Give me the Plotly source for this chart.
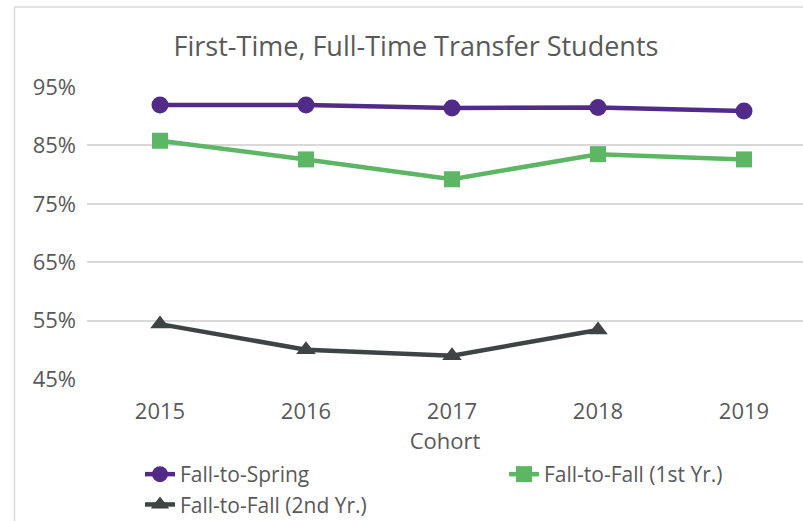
import plotly.graph_objects as go

cohorts = ["2015", "2016", "2017", "2018", "2019"]
fall_to_spring = [91.9, 91.9, 91.4, 91.5, 90.9]
fall_to_fall_1st = [85.8, 82.6, 79.2, 83.5, 82.6]
fall_to_fall_2nd = [54.4, 50.0, 49.0, 53.4, None]
y_ticks = [45, 55, 65, 75, 85, 95]
y_tick_labels = ["45%", "55%", "65%", "75%", "85%", "95%"]

FONT = "Open Sans"
TXT = "#595959"

W, H = 803, 521
ML, MR, MT, MB = 87, 0, 87, 142
PW = W - ML - MR
PH = H - MT - MB

def px_x(px):
    return (px - ML) / PW

def px_y(py):
    return (H - MB - py) / PH

fig = go.Figure()
fig.add_trace(go.Scatter(
    x=cohorts, y=fall_to_spring, name="Fall-to-Spring", mode="lines+markers",
    line=dict(color="#522A87", width=4.5),
    marker=dict(symbol="circle", size=17, color="#522A87"), legend="legend"))
fig.add_trace(go.Scatter(
    x=cohorts, y=fall_to_fall_1st, name="Fall-to-Fall (1st Yr.)", mode="lines+markers",
    line=dict(color="#5CB664", width=4.5),
    marker=dict(symbol="square", size=16, color="#5CB664"), legend="legend2"))
fig.add_trace(go.Scatter(
    x=cohorts, y=fall_to_fall_2nd, name="Fall-to-Fall (2nd Yr.)", mode="lines+markers",
    line=dict(color="#3E4444", width=4.5),
    marker=dict(symbol="triangle-up", size=17, color="#3E4444"), legend="legend"))

legend_common = dict(orientation="v", xref="container", xanchor="left",
                     yref="container", yanchor="top",
                     font=dict(size=21, color=TXT, family=FONT),
                     tracegroupgap=0, bgcolor="rgba(0,0,0,0)")

fig.update_layout(
    width=W, height=H,
    margin=dict(l=ML, r=MR, t=MT, b=MB, pad=0, autoexpand=False),
    paper_bgcolor="white", plot_bgcolor="white",
    font=dict(family=FONT, color=TXT),
    title=dict(text="First-Time, Full-Time Transfer Students",
               x=416 / W, xref="container", xanchor="center",
               y=1 - 47 / H, yref="container", yanchor="middle",
               font=dict(size=27, color=TXT, family=FONT)),
    xaxis=dict(type="category", range=[-0.5, -0.5 + PW / 146.0],
               showgrid=False, zeroline=False, showline=False,
               tickfont=dict(size=22, color=TXT), ticks="", ticklabelstandoff=17,
               title=dict(text="Cohort", font=dict(size=22, color=TXT), standoff=0)),
    yaxis=dict(range=[45, 95], tickvals=y_ticks, ticktext=y_tick_labels,
               showgrid=True, gridcolor="#D9D9D9", gridwidth=1.5,
               zeroline=False, showline=False, ticks="",
               tickfont=dict(size=22, color=TXT), ticklabelstandoff=10),
    legend=dict(x=140 / W, y=1 - 454 / H, **legend_common),
    legend2=dict(x=504 / W, y=1 - 454 / H, **legend_common),
    showlegend=True,
    shapes=[dict(type="rect", xref="paper", yref="paper",
                 x0=px_x(14.5), x1=px_x(900), y0=px_y(700), y1=px_y(7),
                 line=dict(color="#D9D9D9", width=1.5), layer="below")],
)

fig.write_html("out.html", config={"displayModeBar": False},
               post_script="document.body.style.margin='0px';document.body.style.overflow='hidden';")
